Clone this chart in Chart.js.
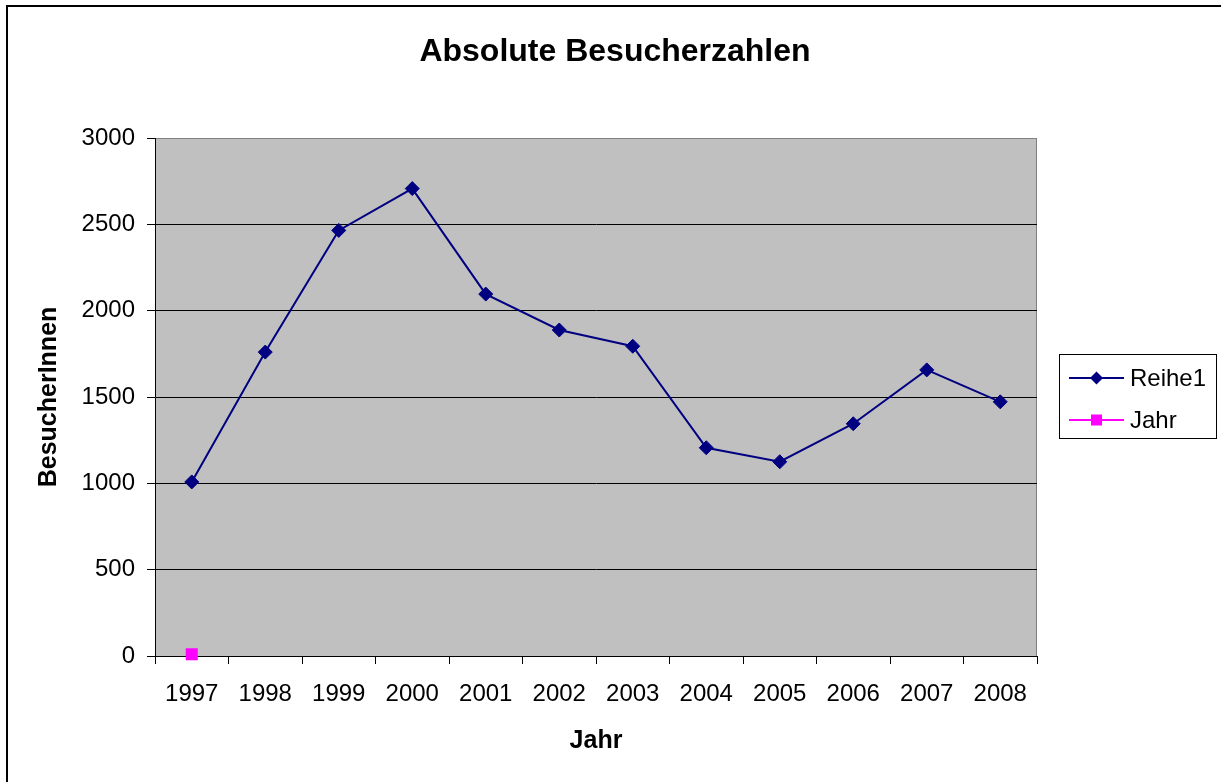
<!DOCTYPE html>
<html>
<head>
<meta charset="utf-8">
<title>Absolute Besucherzahlen</title>
<script src="https://cdn.jsdelivr.net/npm/chart.js@4.4.1/dist/chart.umd.min.js"></script>
<style>
    html, body { margin: 0; padding: 0; background: #ffffff; }
    #chart { display: block; }
</style>
</head>
<body>
<canvas id="chart" width="1221" height="782"></canvas>
<script>
// Daten
const jahre = ['1997', '1998', '1999', '2000', '2001', '2002', '2003', '2004', '2005', '2006', '2007', '2008'];
const reihe1 = [1008, 1760, 2465, 2707, 2096, 1888, 1794, 1206, 1125, 1345, 1657, 1472];
const jahrReihe = [10, null, null, null, null, null, null, null, null, null, null, null];
const yTicks = [0, 500, 1000, 1500, 2000, 2500, 3000];

const FONT = '"Liberation Sans", Arial, sans-serif';

// Hintergrund, Rahmen und Legende im Excel-Stil
const excelLook = {
    id: 'excelLook',
    beforeDraw(chart) {
        const ctx = chart.ctx;
        const a = chart.chartArea;
        ctx.save();
        ctx.fillStyle = '#ffffff';
        ctx.fillRect(0, 0, chart.width, chart.height);
        // äußerer Rahmen
        ctx.fillStyle = '#000000';
        ctx.fillRect(6, 5, chart.width - 6, 2);
        ctx.fillRect(6, 5, 2, chart.height - 5);
        // Zeichenfläche
        ctx.fillStyle = '#c0c0c0';
        ctx.fillRect(a.left, a.top, a.right - a.left, a.bottom - a.top);
        ctx.strokeStyle = '#808080';
        ctx.lineWidth = 1;
        ctx.beginPath();
        ctx.moveTo(a.left, a.top + 0.5);
        ctx.lineTo(a.right - 0.5, a.top + 0.5);
        ctx.lineTo(a.right - 0.5, a.bottom);
        ctx.stroke();
        ctx.restore();
    },
    afterDraw(chart) {
        const ctx = chart.ctx;
        const box = { x: 1059, y: 354, w: 157, h: 84 };
        ctx.save();
        ctx.strokeStyle = '#000000';
        ctx.lineWidth = 1;
        ctx.strokeRect(box.x + 0.5, box.y + 0.5, box.w, box.h);
        ctx.font = '24px ' + FONT;
        ctx.textBaseline = 'middle';
        ctx.textAlign = 'left';
        chart.data.datasets.forEach((ds, i) => {
            const cy = box.y + 24 + i * 42;
            ctx.strokeStyle = ds.borderColor;
            ctx.lineWidth = 2;
            ctx.beginPath();
            ctx.moveTo(box.x + 10, cy);
            ctx.lineTo(box.x + 65, cy);
            ctx.stroke();
            ctx.fillStyle = ds.pointBackgroundColor;
            const cx = box.x + 37.5;
            if (ds.pointStyle === 'rectRot') {
                ctx.beginPath();
                ctx.moveTo(cx - 6.5, cy);
                ctx.lineTo(cx, cy - 6.5);
                ctx.lineTo(cx + 6.5, cy);
                ctx.lineTo(cx, cy + 6.5);
                ctx.closePath();
                ctx.fill();
            } else {
                ctx.fillRect(cx - 5.5, cy - 5.5, 11, 11);
            }
            ctx.fillStyle = '#000000';
            ctx.fillText(ds.label, box.x + 71, cy + 1);
        });
        ctx.restore();
    }
};

function initChart() {
    const ctx = document.getElementById('chart').getContext('2d');
    new Chart(ctx, {
        type: 'line',
        data: {
            labels: jahre,
            datasets: [
                {
                    label: 'Reihe1',
                    data: reihe1,
                    borderColor: '#000080',
                    backgroundColor: '#000080',
                    pointBackgroundColor: '#000080',
                    pointBorderColor: '#000080',
                    borderWidth: 2,
                    pointStyle: 'rectRot',
                    pointRadius: 7,
                    pointBorderWidth: 1,
                    tension: 0,
                    fill: false
                },
                {
                    label: 'Jahr',
                    data: jahrReihe,
                    borderColor: '#ff00ff',
                    backgroundColor: '#ff00ff',
                    pointBackgroundColor: '#ff00ff',
                    pointBorderColor: '#ff00ff',
                    borderWidth: 2,
                    pointStyle: 'rect',
                    pointRadius: 8.5,
                    pointBorderWidth: 0,
                    clip: false,
                    fill: false
                }
            ]
        },
        options: {
            responsive: false,
            animation: false,
            devicePixelRatio: 1,
            layout: { padding: { left: 9, right: 0, top: 0, bottom: 0 } },
            plugins: {
                legend: { display: false },
                tooltip: { enabled: false },
                title: {
                    display: true,
                    text: 'Absolute Besucherzahlen',
                    color: '#000000',
                    font: { family: FONT, size: 32, weight: 'bold', lineHeight: 1.2 },
                    padding: { top: 33, bottom: 66.6 }
                }
            },
            scales: {
                x: {
                    offset: true,
                    grid: {
                        offset: true,
                        drawOnChartArea: false,
                        drawTicks: true,
                        tickLength: 8,
                        color: '#000000',
                        tickColor: '#000000'
                    },
                    border: { color: '#000000', width: 1 },
                    ticks: {
                        color: '#000000',
                        font: { family: FONT, size: 24 },
                        padding: 16,
                        maxRotation: 0,
                        autoSkip: false
                    },
                    title: {
                        display: true,
                        text: 'Jahr',
                        color: '#000000',
                        font: { family: FONT, size: 25, weight: 'bold', lineHeight: 1.2 },
                        padding: { top: 0, bottom: 26 }
                    },
                    afterFit(scale) { scale.height = 126; }
                },
                y: {
                    min: 0,
                    max: 3000,
                    afterBuildTicks(scale) {
                        scale.ticks = yTicks.map(v => ({ value: v }));
                    },
                    grid: {
                        color: c => (c.tick && c.tick.value === 3000) ? '#808080' : '#000000',
                        tickColor: '#000000',
                        tickLength: 8,
                        lineWidth: 1
                    },
                    border: { color: '#000000', width: 1 },
                    ticks: {
                        color: '#000000',
                        font: { family: FONT, size: 24 },
                        padding: 12,
                        callback: v => String(v)
                    },
                    title: {
                        display: true,
                        text: 'BesucherInnen',
                        color: '#000000',
                        font: { family: FONT, size: 25, weight: 'bold', lineHeight: 1.2 },
                        padding: { top: 25.5, bottom: 0 }
                    },
                    afterFit(scale) { scale.width = 146; }
                },
                // Platzhalter rechts für die Legende
                rechts: {
                    type: 'linear',
                    position: 'right',
                    display: true,
                    grid: { display: false, drawTicks: false },
                    border: { display: false },
                    ticks: { display: false },
                    afterFit(scale) { scale.width = 184; }
                }
            }
        },
        plugins: [excelLook]
    });
}

document.addEventListener('DOMContentLoaded', initChart);
</script>
</body>
</html>
